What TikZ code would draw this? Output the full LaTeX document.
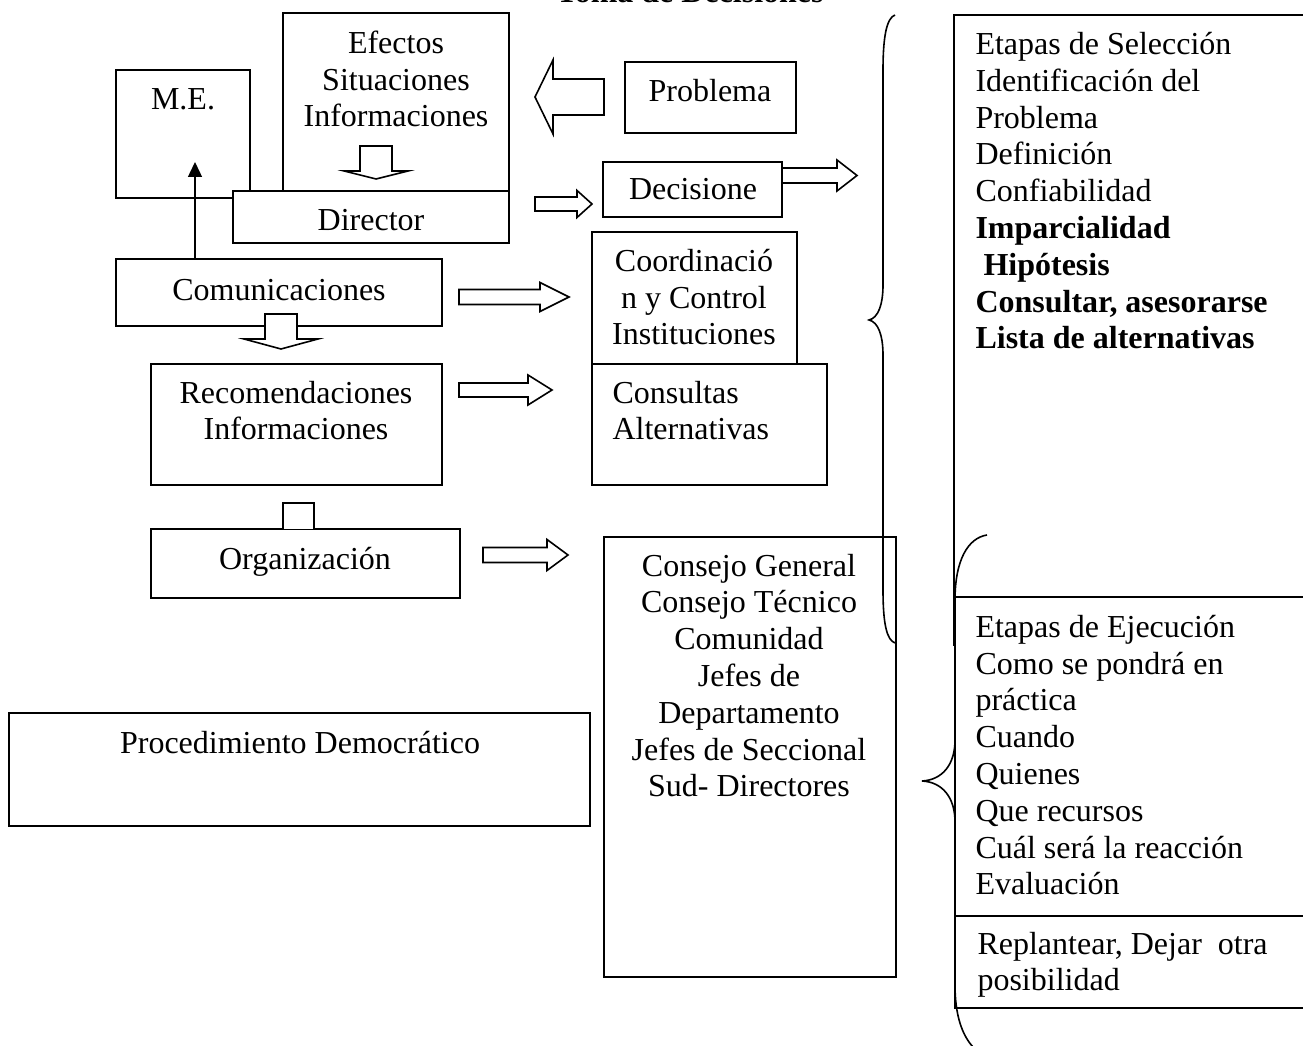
\documentclass[tikz,border=0pt]{standalone}
\usepackage{fontspec}
\setmainfont{Liberation Serif}
\usetikzlibrary{arrows.meta,fit}
\tikzset{
    box/.style = {
        draw,
        fill       = white,
        line width = 0.6pt,
        inner sep  = 0pt,
    },
    txt/.style = {
        inner sep = 0pt,
        align     = left,
    },
    blk/.style = {
        draw,
        fill       = white,
        line width = 0.6pt,
    }
}
% flecha de bloque: x, y, angulo, largo, medio cuerpo, media punta, largo punta
\newcommand{\blockarr}[7]{%
  \draw[blk, shift={(#1,#2)}, rotate=#3]
    (0,-#5) -- ({#4-#7},-#5) -- ({#4-#7},-#6) -- (#4,0)
    -- ({#4-#7},#6) -- ({#4-#7},#5) -- (0,#5) -- cycle;}

\begin{document}
\begin{tikzpicture}[x=0.375pt, y=-0.375pt, font=\fontsize{12}{13.8}\selectfont]
  \fill[white] (0,0) rectangle (1303,1046);
  \useasboundingbox (0,0) rectangle (1303,1046);

  % Titulo
  \node[txt, anchor=base, font=\fontsize{12}{13.8}\selectfont\bfseries] (Titulo) at (690,3) {Toma de Decisiones};

  % Izquierda
  \node[box, fit={(116,70) (250,198)}] (ME) {};
  \node[txt, anchor=base] (METxt) at (183,110) {M.E.};
  \node[box, fit={(283,13) (509,191)}] (Efectos) {};
  \node[txt, anchor=base, align=center] (EfectosTxt) at (396,127) {Efectos\\Situaciones\\Informaciones};
  \node[box, fit={(233,191) (509,243)}] (Director) {};
  \node[txt, anchor=base] (DirectorTxt) at (371,231) {Director};
  \node[box, fit={(116,259) (442,326)}] (Comunic) {};
  \node[txt, anchor=base] (ComunicTxt) at (279,301) {Comunicaciones};
  \node[box, fit={(151,364) (442,485)}] (Recom) {};
  \node[txt, anchor=base, align=center] (RecomTxt) at (296,440) {Recomendaciones\\Informaciones};
  \node[box, fit={(151,529) (460,598)}] (Organiz) {};
  \node[txt, anchor=base] (OrganizTxt) at (305,570) {Organización};
  \node[box, fit={(9,713) (590,826)}] (Proced) {};
  \node[txt, anchor=base] (ProcedTxt) at (300,754) {Procedimiento Democrático};

  \coordinate (MEtip) at (195,162);
  \draw[-{Triangle[length=5.6pt,width=5.2pt]}, line width=0.6pt] (Comunic.north -| MEtip) -- (MEtip);
  \draw[blk] (283,529) -- (283,503) -- (314,503) -- (314,529);

  % Centro
  \node[box, fit={(625,62) (796,133)}] (Problema) {};
  \node[txt, anchor=base] (ProblemaTxt) at (710,102) {Problema};
  \node[box, fit={(603,162) (782,217)}] (Decision) {};
  \node[txt, anchor=base] (DecisionTxt) at (693,200) {Decisione};
  \node[box, fit={(592,232) (797,365)}] (Coord) {};
  \node[txt, anchor=base, align=center] (CoordTxt) at (694,345) {Coordinació\\n y Control\\Instituciones};
  \node[box, fit={(592,364) (827,485)}] (Consultas) {};
  \node[txt, anchor=base west] (ConsultasTxt) at (612,440) {Consultas\\Alternativas};
  \node[box, fit={(604,537) (896,977)}] (Consejo) {};
  \node[txt, anchor=base, align=center] (ConsejoTxt) at (749,797) {Consejo General\\Consejo Técnico\\Comunidad\\Jefes de\\Departamento\\Jefes de Seccional\\Sud- Directores};

  % Flechas de bloque
  \blockarr{376}{146}{-90}{33}{16}{32}{8}
  \blockarr{281}{314}{-90}{35}{16}{37}{10}
  \blockarr{604}{97}{180}{69}{18}{37}{18}
  \blockarr{535}{204}{0}{57}{7}{13.5}{15}
  \blockarr{782}{175.5}{0}{75}{7.5}{15.5}{20}
  \blockarr{459}{297}{0}{110}{7.5}{14.5}{29}
  \blockarr{459}{390}{0}{93}{7}{15}{24}
  \blockarr{483}{555}{0}{85}{7.5}{15.5}{21}

  % Derecha
  \node[box, fit={(954,15) (1310,645)}] (Seleccion) {};
  \node[txt, anchor=base west] (SeleccionTxt) at (975,349) {Etapas de Selección\\Identificación del\\Problema\\Definición\\Confiabilidad\\\textbf{Imparcialidad}\\\hspace*{3pt}\textbf{Hipótesis}\\\textbf{Consultar, asesorarse}\\\textbf{Lista de alternativas}};
  \node[box, fit={(955,597) (1310,916)}] (Ejecucion) {};
  \node[txt, anchor=base west] (EjecucionTxt) at (975,895) {Etapas de Ejecución\\Como se pondrá en\\práctica\\Cuando\\Quienes\\Que recursos\\Cuál será la reacción\\Evaluación};
  \node[box, fit={(955,916) (1310,1008)}] (Replantear) {};
  \node[txt, anchor=base west] (ReplantearTxt) at (977,991) {Replantear, Dejar\ \ otra\\posibilidad};

  % Llaves
  \draw[line width=0.6pt] (895,15) .. controls (887,18) and (883,35) .. (883,70) -- (883,285)
    .. controls (883,305) and (878,318) .. (869,320) .. controls (878,322) and (883,335) .. (883,355)
    -- (883,590) .. controls (883,625) and (887,640) .. (895,643);
  \draw[line width=0.6pt] (987,535) .. controls (968,538) and (955,560) .. (955,600) -- (955,740)
    .. controls (955,765) and (942,780) .. (922,781) .. controls (942,782) and (955,797) .. (955,822)
    -- (955,985) .. controls (955,1015) and (962,1035) .. (973,1047);
\end{tikzpicture}
\end{document}
